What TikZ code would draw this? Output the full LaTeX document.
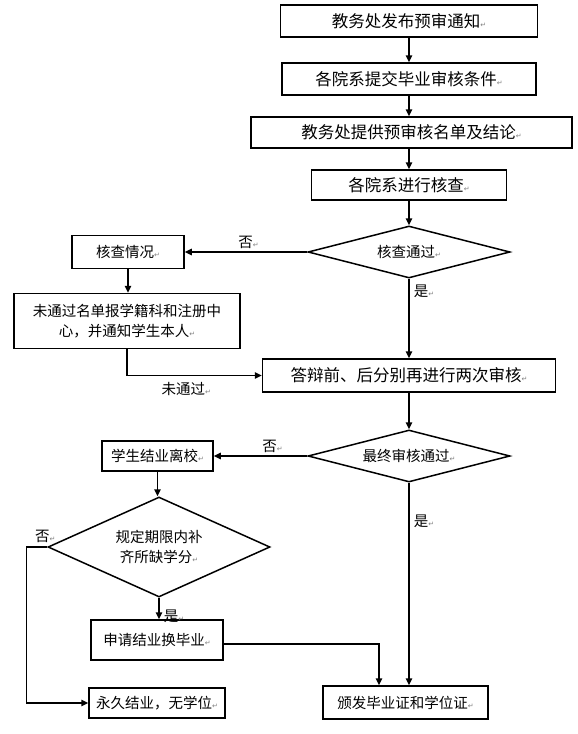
\documentclass[tikz,border=0pt]{standalone}
\usepackage{fontspec}
\newfontfamily\cjk{Noto Sans CJK SC}
\newfontfamily\dejavu{DejaVu Sans}
\usetikzlibrary{shapes.geometric, positioning, arrows.meta}
\newcommand{\parmark}{{\dejavu\fontsize{7}{7}\selectfont\textcolor{gray}{↵}}}

\begin{document}
\begin{tikzpicture}[
    on grid,
    node distance=58pt,
    every node/.style={font=\cjk\fontsize{14.5}{20}\selectfont},
    proc/.style={draw, line width=1.5pt, inner sep=0pt, align=center},
    bigproc/.style={proc, font=\cjk\fontsize{16.5}{20}\selectfont},
    check/.style={diamond, draw, line width=1.5pt, inner sep=0pt, align=center, shape aspect=3},
    flow/.style={line width=1.5pt, -{Triangle[length=7pt, width=6.5pt]}},
    lab/.style={inner sep=1pt}
]
   \useasboundingbox (0,0) rectangle (578pt,-734pt);

   % main column
   \node[bigproc, minimum width=257pt, minimum height=32pt] (notice) at (409pt,-21pt) {教务处发布预审通知\parmark};
   \node[bigproc, minimum width=254pt, minimum height=32pt] (submit) [below=58pt of notice] {各院系提交毕业审核条件\parmark};
   \node[bigproc, minimum width=321pt, minimum height=31pt] (roster) [below=53.5pt of submit, xshift=2.5pt] {教务处提供预审核名单及结论\parmark};
   \node[bigproc, minimum width=195pt, minimum height=30pt] (verify) [below=52.5pt of roster, xshift=-2.5pt] {各院系进行核查\parmark};
   \node[check, minimum width=202pt, minimum height=52pt] (pass) [below=67pt of verify] {核查通过\parmark};
   \node[bigproc, minimum width=293pt, minimum height=33pt] (defense) [below=123.5pt of pass] {答辩前、后分别再进行两次审核\parmark};
   \node[check, minimum width=202pt, minimum height=52pt] (final) [below=80.5pt of defense] {最终审核通过\parmark};
   \node[proc, minimum width=165pt, minimum height=33pt] (issue) [below=246.5pt of final, xshift=-3.5pt] {颁发毕业证和学位证\parmark};

   % left column
   \node[proc, minimum width=112pt, minimum height=33pt] (status) [left=281pt of pass] {核查情况\parmark};
   \node[proc, minimum width=226pt, minimum height=55pt] (unpassed) [below=69pt of status, xshift=-1pt] {未通过名单报学籍科和注册中\\心，并通知学生本人\parmark};
   \node[proc, minimum width=111pt, minimum height=30pt] (leave) [left=251.5pt of final] {学生结业离校\parmark};
   \node[check, minimum width=222pt, minimum height=100pt, shape aspect=2] (makeup) [below=91pt of leave, xshift=1.5pt] {规定期限内补\\齐所缺学分\parmark};
   \node[proc, minimum width=132pt, minimum height=40pt] (apply) [below=93pt of makeup, xshift=-2pt] {申请结业换毕业\parmark};
   \node[proc, minimum width=136pt, minimum height=30pt] (forever) [below=63pt of apply] {永久结业，无学位\parmark};

   % connectors
   \draw[flow] (notice) -- (submit);
   \draw[flow] (submit.south) -- (submit.south |- roster.north);
   \draw[flow] (verify.south |- roster.south) -- (verify.north);
   \draw[flow] (verify) -- (pass);
   \draw[flow] (pass.west) -- node[lab, above, pos=0.48, yshift=2pt] {否\parmark} (status.east);
   \draw[flow] (pass.south) -- node[lab, anchor=west, pos=0.16, xshift=3pt] {是\parmark} (defense.north);
   \draw[flow] (status.south) -- (status.south |- unpassed.north);
   \draw[flow] (unpassed.south) |- node[lab, below, pos=0.72, yshift=-5pt] {未通过\parmark} (defense.west);
   \draw[flow] (defense) -- (final);
   \draw[flow] (final.west) -- node[lab, above, pos=0.37, yshift=2pt] {否\parmark} (leave.east);
   \draw[flow] (final.south) -- node[lab, anchor=west, pos=0.19, xshift=3pt] {是\parmark} (final.south |- issue.north);
   \draw[flow] (leave.south) -- (leave.south |- makeup.north);
   \draw[flow] (makeup.south) -- node[lab, anchor=west, pos=0.85, xshift=3pt] {是\parmark} (makeup.south |- apply.north);
   \draw[flow] (makeup.west) node[lab, anchor=south, xshift=-2pt, yshift=3pt] {否\parmark} -- ++(-21pt,0) |- (forever.west);
   \draw[flow] ([yshift=-4pt]apply.east) -| ([xshift=-26.5pt]issue.north);
\end{tikzpicture}
\end{document}
